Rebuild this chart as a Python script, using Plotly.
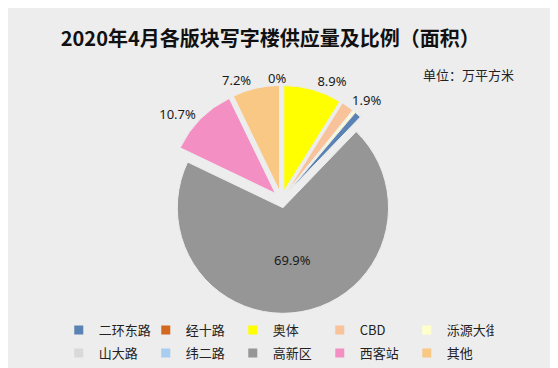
import plotly.graph_objects as go

# Legend-order data
districts = ["二环东路", "经十路", "奥体", "CBD", "泺源大街", "山大路", "纬二路", "高新区", "西客站", "其他"]
shares = [1.0, 0.0, 8.9, 1.9, 0.4, 0.0, 0.0, 69.9, 10.7, 7.2]
label_text = ["", "", "8.9%", "1.9%", "", "", "", "69.9%", "10.7%", "7.2%"]
colors = ["#5A82B2", "#D2691E", "#FFFF00", "#F8C39A", "#FFFFCC",
          "#D9D9D9", "#A7CDF0", "#969696", "#F48FC4", "#F8C884"]
# clockwise drawing order starting at 12 o'clock
pie_order = [2, 3, 4, 0, 7, 8, 9, 1, 5, 6]

fig = go.Figure()

fig.add_trace(go.Pie(
    labels=[districts[i] for i in pie_order],
    values=[shares[i] for i in pie_order],
    text=[label_text[i] for i in pie_order],
    marker=dict(colors=[colors[i] for i in pie_order], line=dict(color="#EDEDED", width=1)),
    textinfo="text",
    textposition=["outside" if districts[i] != "高新区" else "inside" for i in pie_order],
    insidetextorientation="horizontal",
    textfont=dict(family="Noto Sans", size=13, color="#1a1a1a"),
    sort=False, direction="clockwise", rotation=0,
    pull=[0.08] * len(pie_order),
    showlegend=False,
    domain=dict(x=[0.22, 0.76], y=[0.17, 0.79]),
    hoverinfo="label+percent",
))

for k, (name, col) in enumerate(zip(districts, colors)):
    fig.add_trace(go.Scatter(
        x=[None], y=[None], mode="markers", name=name,
        marker=dict(symbol="square", size=9, color=col),
        legend="legend" if k < 5 else "legend2",
    ))

legend_common = dict(orientation="h", xanchor="left", yanchor="middle",
                     font=dict(family="Noto Sans CJK SC", size=13, color="#222222"),
                     bgcolor="rgba(0,0,0,0)", entrywidth=42, entrywidthmode="pixels",
                     itemwidth=30, tracegroupgap=0)

fig.update_layout(
    width=558, height=368,
    margin=dict(l=0, r=0, t=0, b=0),
    paper_bgcolor="#EDEDED", plot_bgcolor="rgba(0,0,0,0)",
    xaxis=dict(visible=False), yaxis=dict(visible=False),
    title=dict(text="<b>2020年4月各版块写字楼供应量及比例（面积）</b>",
               x=0.47, xanchor="center", y=0.915, yanchor="middle",
               font=dict(family="Noto Sans CJK SC", size=20, color="#111111")),
    legend=dict(x=0.091, y=(368 - 322) / 368, **legend_common),
    legend2=dict(x=0.091, y=(368 - 345) / 368, **legend_common),
    annotations=[
        dict(text="单位：万平方米", x=460 / 558, y=(368 - 66) / 368, xref="paper", yref="paper",
             showarrow=False, xanchor="center", yanchor="middle",
             font=dict(family="Noto Sans CJK SC", size=13, color="#222222")),
        dict(text="0%", x=269 / 558, y=(368 - 70) / 368, xref="paper", yref="paper",
             showarrow=False, xanchor="center", yanchor="middle",
             font=dict(family="Noto Sans", size=13, color="#1a1a1a")),
    ],
)

fig.write_html("out.html")
